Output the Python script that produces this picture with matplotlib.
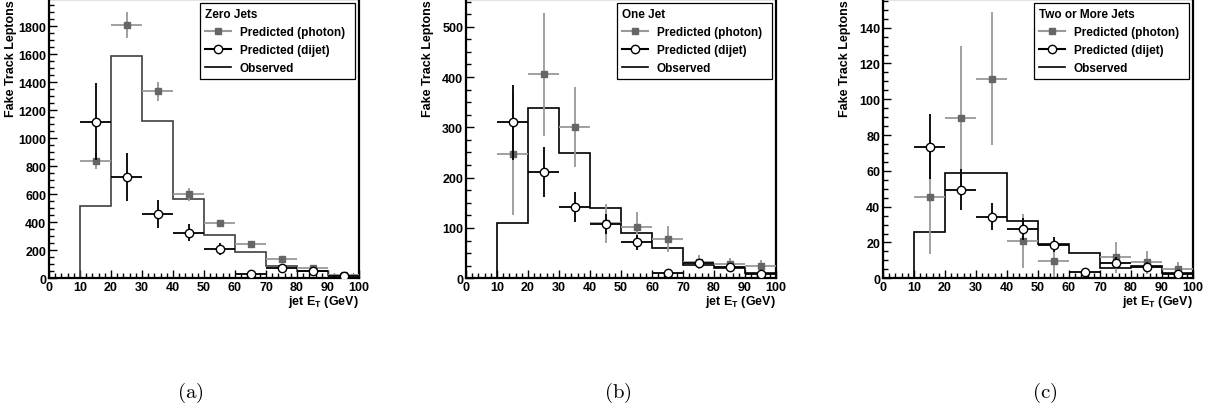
import numpy as np
import matplotlib
matplotlib.use("Agg")
import matplotlib.pyplot as plt
from matplotlib.lines import Line2D
from matplotlib.ticker import MultipleLocator, AutoMinorLocator

plt.rcParams["font.family"] = ["Liberation Sans", "DejaVu Sans"]
plt.rcParams["font.weight"] = "bold"
plt.rcParams["mathtext.fontset"] = "custom"
plt.rcParams["mathtext.rm"] = "Liberation Sans:bold"
plt.rcParams["mathtext.bf"] = "Liberation Sans:bold"

# bins of jet E_T (GeV)
edges = np.arange(0, 101, 10)
centers = edges[:-1] + 5

# ---- (a) zero jets ----
obs_a = [0, 515, 1585, 1125, 570, 310, 190, 86, 55, 24]
pho_a = [838, 1810, 1335, 600, 395, 245, 140, 75, 25]
pho_a_err = [60, 90, 70, 45, 25, 15, 12, 8, 5]
dij_a = [1120, 725, 460, 325, 210, 30, 75, 55, 20]
dij_a_err = [275, 170, 100, 60, 40, 8, 10, 8, 5]

# ---- (b) one jet ----
obs_b = [0, 110, 338, 248, 140, 90, 60, 27, 21, 10]
pho_b = [247, 405, 301, 109, 101, 78, 32, 28, 25]
pho_b_err = [122, 122, 80, 38, 30, 25, 14, 12, 11]
dij_b = [310, 211, 142, 108, 72, 10, 30, 22, 8]
dij_b_err = [75, 50, 30, 20, 15, 5, 8, 6, 4]

# ---- (c) two or more jets ----
obs_c = [0, 26, 59, 59, 32, 19, 14, 6, 7, 3]
pho_c_x = [15, 25, 35, 45, 55, 75, 85, 95]
pho_c = [45.5, 89.7, 111.5, 21, 9.5, 11.7, 9, 5]
pho_c_err = [32, 40, 37, 15, 9, 8.5, 6.5, 4]
dij_c = [73.6, 49.4, 34.5, 27.6, 18.8, 3.5, 8.8, 6.5, 2.5]
dij_c_err = [18, 11.5, 7.5, 6, 4, 1.5, 3, 2.5, 2]

panels = [
    dict(title="Zero Jets", obs=obs_a, px=centers[1:], py=pho_a, pe=pho_a_err,
         dy=dij_a, de=dij_a_err, ymax=1995, major=200, hcol="#404040", tag="(a)"),
    dict(title="One Jet", obs=obs_b, px=centers[1:], py=pho_b, pe=pho_b_err,
         dy=dij_b, de=dij_b_err, ymax=555, major=100, hcol="black", tag="(b)"),
    dict(title="Two or More Jets", obs=obs_c, px=pho_c_x, py=pho_c, pe=pho_c_err,
         dy=dij_c, de=dij_c_err, ymax=156, major=20, hcol="black", tag="(c)"),
]

W, H = 1212, 414
fig = plt.figure(figsize=(W / 100, H / 100), dpi=100)
lefts = [49, 466, 883]
tag_x = [190, 618, 1045]
pho_mark = "#666666"
pho_bar = "#999999"

for p, left, tx in zip(panels, lefts, tag_x):
    ax = fig.add_axes([left / W, (H - 279.3) / H, 310 / W, 279.3 / H])

    ax.stairs(p["obs"], edges, baseline=0, color=p["hcol"], lw=1.2, zorder=2)

    ax.errorbar(p["px"], p["py"], yerr=p["pe"], xerr=5, fmt="s", ms=5,
                mfc=pho_mark, mec=pho_mark, ecolor=pho_bar, elinewidth=1.3,
                capsize=0, zorder=3)
    ax.errorbar(centers[1:], p["dy"], yerr=p["de"], xerr=5, fmt="o", ms=6,
                mfc="white", mec="black", mew=1.0, ecolor="black",
                elinewidth=1.3, capsize=0, zorder=4)

    ax.set_xlim(0, 100)
    ax.set_ylim(0, p["ymax"])
    ax.xaxis.set_major_locator(MultipleLocator(10))
    ax.xaxis.set_minor_locator(AutoMinorLocator(5))
    ax.yaxis.set_major_locator(MultipleLocator(p["major"]))
    ax.yaxis.set_minor_locator(AutoMinorLocator(4))
    ax.tick_params(which="both", direction="in", top=False, right=False,
                   labelsize=9, width=1.0, pad=2)
    ax.tick_params(which="major", length=6)
    ax.tick_params(which="minor", length=3.5)
    for s in ax.spines.values():
        s.set_linewidth(1.6)

    ax.set_ylabel("Fake Track Leptons", fontsize=9, fontweight="bold", loc="top")
    ax.yaxis.set_label_coords(-0.103, 1.0)
    ax.set_xlabel(r"jet E$_\mathrm{T}$ (GeV)", fontsize=9, fontweight="bold",
                  loc="right", labelpad=0)

    handles = [
        Line2D([], [], color=pho_bar, marker="s", ms=5, mfc=pho_mark, mec=pho_mark),
        Line2D([], [], color="black", marker="o", ms=6, mfc="white", mec="black"),
        Line2D([], [], color="black", lw=1.2),
    ]
    leg = ax.legend(handles, ["Predicted (photon)", "Predicted (dijet)", "Observed"],
                    title=p["title"], loc="upper left", mode="expand",
                    bbox_to_anchor=(0.487, 0.986, 0.5, 0.0), borderaxespad=0,
                    fontsize=8.5, title_fontsize=8.5, alignment="left",
                    fancybox=False, edgecolor="black", framealpha=1,
                    handlelength=2.2, handletextpad=0.7, labelspacing=0.5,
                    borderpad=0.45)
    leg.get_frame().set_linewidth(0.9)
    leg.get_title().set_fontweight("bold")

    fig.text(tx / W, 1 - 393 / H, r"$\mathrm{" + p["tag"] + "}$",
             math_fontfamily="cm", fontsize=15, ha="center", va="center")

fig.savefig("out.png", dpi=100)
